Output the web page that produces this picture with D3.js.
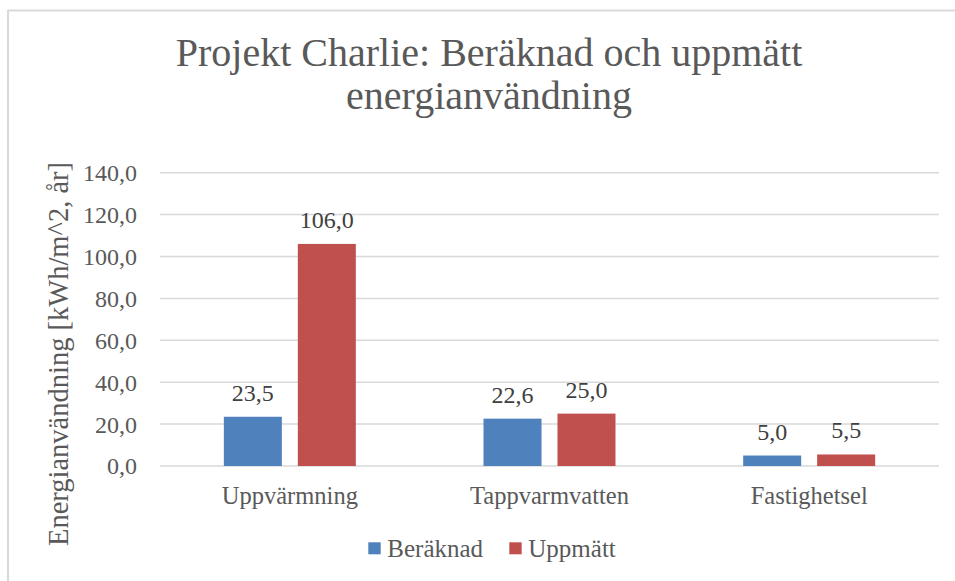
<!DOCTYPE html>
<html>
<head>
<meta charset="utf-8">
<script src="https://cdn.jsdelivr.net/npm/d3@7"></script>
<style>
  html, body { margin: 0; padding: 0; background: #fff; }
  svg { display: block; }
  text { font-family: "Liberation Serif", "Times New Roman", serif; }
</style>
</head>
<body>
<svg id="chart" width="955" height="581"></svg>
<script>
const categories = ["Uppvärmning", "Tappvarmvatten", "Fastighetsel"];
const seriesNames = ["Beräknad", "Uppmätt"];
const beraknad = [23.5, 22.6, 5.0];
const uppmatt = [106.0, 25.0, 5.5];
const yTicks = [0, 20, 40, 60, 80, 100, 120, 140];
const colors = ["#4f81bd", "#c0504d"];
const titleLines = ["Projekt Charlie: Beräknad och uppmätt", "energianvändning"];
const yTitle = "Energianvändning [kWh/m^2, år]";

const values = [beraknad, uppmatt];
const fmt = v => d3.format(".1f")(v).replace(".", ",");

const svg = d3.select("#chart");

// chart border (top + left only visible)
svg.append("line").attr("x1", 8).attr("x2", 955).attr("y1", 10.5).attr("y2", 10.5)
  .attr("stroke", "#d9d9d9").attr("stroke-width", 2);
svg.append("line").attr("x1", 8).attr("x2", 8).attr("y1", 10).attr("y2", 581)
  .attr("stroke", "#d9d9d9").attr("stroke-width", 2);

const plot = { left: 160, right: 939, top: 172.7, bottom: 466 };

const y = d3.scaleLinear().domain([0, 140]).range([plot.bottom, plot.top]);
const x0 = d3.scaleBand().domain(categories).range([plot.left, plot.right]).padding(0);
const groupW = x0.bandwidth() * 132 / 259.7;
const x1 = d3.scaleBand().domain(seriesNames).range([0, groupW]).paddingInner(0.216).paddingOuter(0);

// title
svg.append("g").selectAll("text").data(titleLines).join("text")
  .attr("x", 489).attr("y", (d, i) => 66 + i * 43)
  .attr("text-anchor", "middle")
  .attr("font-size", 40)
  .attr("fill", "#595959")
  .text(d => d);

// gridlines
svg.append("g").selectAll("line").data(yTicks).join("line")
  .attr("x1", plot.left).attr("x2", plot.right)
  .attr("y1", d => y(d)).attr("y2", d => y(d))
  .attr("stroke", "#d9d9d9").attr("stroke-width", 1.5);

// y axis labels
const yAxis = d3.axisLeft(y).tickValues(yTicks).tickFormat(fmt).tickSize(0).tickPadding(0);
const yg = svg.append("g").attr("transform", `translate(137,0)`).call(yAxis);
yg.select(".domain").remove();
yg.selectAll("text").attr("font-size", 24).attr("fill", "#595959")
  .attr("font-family", "Liberation Serif").attr("dy", "0.33em");

// y title
svg.append("text")
  .attr("transform", "translate(68,354) rotate(-90)")
  .attr("text-anchor", "middle")
  .attr("font-size", 28.5)
  .attr("fill", "#595959")
  .text(yTitle);

// bars
const groups = svg.append("g").selectAll("g").data(categories).join("g")
  .attr("transform", d => `translate(${x0(d) + (x0.bandwidth() - groupW) / 2},0)`);

groups.selectAll("rect").data((c, ci) => seriesNames.map((s, si) => ({ s, si, v: values[si][ci] })))
  .join("rect")
  .attr("x", d => x1(d.s))
  .attr("y", d => y(d.v))
  .attr("width", x1.bandwidth())
  .attr("height", d => y(0) - y(d.v))
  .attr("fill", d => colors[d.si]);

groups.selectAll("text.lbl").data((c, ci) => seriesNames.map((s, si) => ({ s, si, v: values[si][ci] })))
  .join("text").attr("class", "lbl")
  .attr("x", d => x1(d.s) + x1.bandwidth() / 2)
  .attr("y", d => y(d.v) - 16)
  .attr("text-anchor", "middle")
  .attr("font-size", 24)
  .attr("fill", "#404040")
  .text(d => fmt(d.v));

// x axis labels
const xAxis = d3.axisBottom(x0).tickSize(0).tickPadding(0);
const xg = svg.append("g").attr("transform", `translate(0,504)`).call(xAxis);
xg.select(".domain").remove();
xg.selectAll("text").attr("font-size", 24.5).attr("fill", "#595959")
  .attr("font-family", "Liberation Serif").attr("dy", 0);

// legend
const legendX = [368.3, 509.3];
const lg = svg.append("g").selectAll("g").data(seriesNames).join("g")
  .attr("transform", (d, i) => `translate(${legendX[i]},542.3)`);
lg.append("rect").attr("width", 12.4).attr("height", 12).attr("fill", (d, i) => colors[i]);
lg.append("text").attr("x", 19).attr("y", 14.4)
  .attr("font-size", 25).attr("fill", "#595959").text(d => d);
</script>
</body>
</html>
